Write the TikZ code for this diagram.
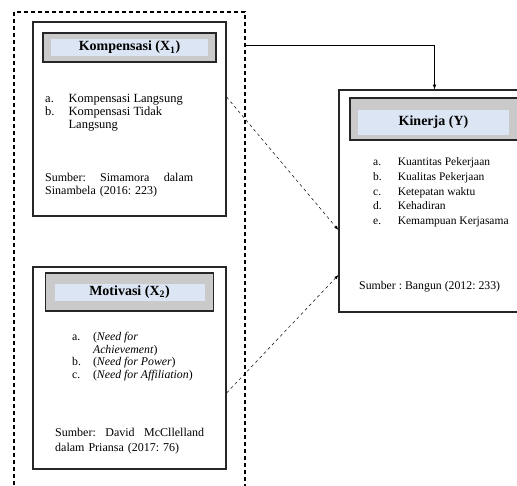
\documentclass[tikz,border=0pt]{standalone}
\usepackage{fontspec}
\setmainfont{Liberation Serif}
\usetikzlibrary{arrows,positioning}
\definecolor{hdrgray}{RGB}{202,202,202}
\definecolor{hdrblue}{RGB}{219,229,243}
\frenchspacing

\begin{document}
\begin{tikzpicture}[x=1pt,y=-1pt,>=latex,
  frame/.style={draw=black!85,line width=1.2pt,inner sep=0pt},
  hdr/.style={draw=black!85,line width=1.2pt,fill=hdrgray,inner sep=0pt},
  hdrin/.style={fill=hdrblue,inner sep=0pt,font=\fontsize{14}{16}\selectfont\bfseries},
  txt/.style={inner sep=0pt,anchor=north west,align=left}]
   \useasboundingbox (0,0) rectangle (517,485);
   \clip (0,0) rectangle (517,485);
   % kelompok variabel X
   \draw[dash pattern=on 4pt off 3pt,line width=1.3pt] (14,12) rectangle (245,495);
   \coordinate (grp) at (245,45);
   % Kompensasi
   \node[frame,minimum width=193pt,minimum height=194pt] (k1) at (129.5,119) {};
   \node[hdr,minimum width=173pt,minimum height=29pt] (h1) [below=11pt of k1.north] {};
   \node[hdrin,minimum width=157pt,minimum height=17pt] (t1) at (h1.center) {Kompensasi (X\textsubscript{1})};
   \node[txt,font=\fontsize{12.5}{13}\selectfont] (i1) at (45,93)
     {\begin{tabular}{@{}l@{\hspace{14pt}}l@{}}
      a. & Kompensasi Langsung\\
      b. & Kompensasi Tidak\\
         & Langsung
      \end{tabular}};
   \node[txt,text width=148pt,font=\fontsize{12}{13}\selectfont] (s1) at (45,173)
     {Sumber:\hfill Simamora\hfill dalam\\Sinambela (2016: 223)};
   % Motivasi
   \node[frame,minimum width=193pt,minimum height=202pt] (k2) at (129.5,368) {};
   \node[hdr,minimum width=168pt,minimum height=38pt] (h2) [below=6pt of k2.north] {};
   \node[hdrin,minimum width=150pt,minimum height=17pt] (t2) at (h2.center) {Motivasi (X\textsubscript{2})};
   \node[txt,font=\fontsize{11.8}{12.5}\selectfont] (i2) at (72,332)
     {\begin{tabular}{@{}l@{\hspace{12pt}}l@{}}
      a. & (\textit{Need for}\\
         & \textit{Achievement})\\
      b. & (\textit{Need for Power})\\
      c. & (\textit{Need for Affiliation})
      \end{tabular}};
   \node[txt,text width=149pt,font=\fontsize{12}{15}\selectfont] (s2) at (55,428)
     {Sumber:\hfill David\hfill McCllelland\\dalam Priansa (2017: 76)};
   % Kinerja
   \node[frame,minimum width=191pt,minimum height=222pt] (ky) at (434.5,201) {};
   \node[hdr,minimum width=180pt,minimum height=42pt] (hy) at (440,119) {};
   \node[hdrin,minimum width=151pt,minimum height=25pt] (ty) at (433.5,122.5) {Kinerja (Y)};
   \node[txt,font=\fontsize{11.5}{14.75}\selectfont] (iy) at (373,155)
     {\begin{tabular}{@{}l@{\hspace{16pt}}l@{}}
      a. & Kuantitas Pekerjaan\\
      b. & Kualitas Pekerjaan\\
      c. & Ketepatan waktu\\
      d. & Kehadiran\\
      e. & Kemampuan Kerjasama
      \end{tabular}};
   \node[txt,font=\fontsize{11.8}{14}\selectfont] (sy) at (359,281) {Sumber : Bangun (2012: 233)};
   % hubungan
   \draw[->,line width=0.7pt] (grp) -| (ky.north);
   \path[->,dashed,line width=0.5pt]
     ([yshift=22pt]k1.east) edge ([yshift=-29pt]ky.west)
     ([yshift=-25pt]k2.east) edge ([yshift=-74pt]ky.west);
\end{tikzpicture}
\end{document}
